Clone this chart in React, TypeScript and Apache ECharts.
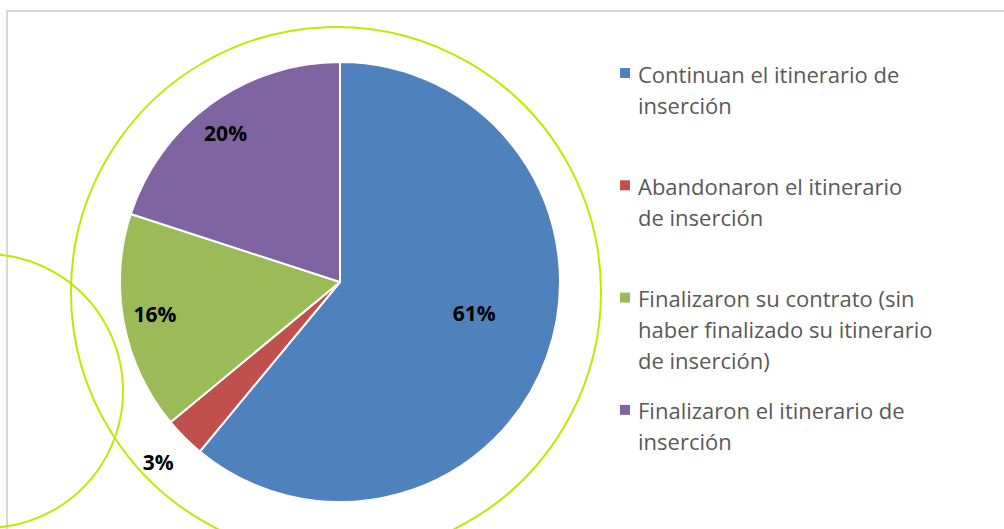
import React, { useEffect, useRef } from "react";
import * as echarts from "echarts";

const categories = [
  "Continuan el itinerario de\ninserción",
  "Abandonaron el itinerario\nde inserción",
  "Finalizaron su contrato (sin\nhaber finalizado su itinerario\nde inserción)",
  "Finalizaron el itinerario de\ninserción",
];
const values = [61, 3, 16, 20];
const colors = ["#4f81bd", "#c0504d", "#9bbb59", "#8064a2"];
const labelOffsets = [
  [28, -7],
  [-102, 100],
  [-74, 11],
  [-48, -58],
];

export default function App() {
  const ref = useRef<HTMLDivElement>(null);
  useEffect(() => {
    const chart = echarts.init(ref.current!, null, { renderer: "svg" });
    const FONT = "Open Sans";
    const legendGraphics: any[] = [];
    categories.forEach((c, i) => {
      const y = 73 + i * 112.3;
      legendGraphics.push({
        type: "rect",
        shape: { x: 620, y: y - 5, width: 10, height: 10 },
        style: { fill: colors[i] },
      });
      legendGraphics.push({
        type: "text",
        x: 638,
        y: y - 15,
        style: {
          text: c,
          font: `22px "${FONT}"`,
          fill: "#595959",
          lineHeight: 31,
          textVerticalAlign: "top",
        },
      });
    });
    chart.setOption({
      animation: false,
      graphic: [
        {
          type: "rect",
          shape: { x: 7, y: 11, width: 1200, height: 800 },
          style: { fill: "none", stroke: "#d9d9d9", lineWidth: 2 },
          z: 0,
        },
        ...legendGraphics,
        {
          type: "circle",
          shape: { cx: 336, cy: 292, r: 265 },
          style: { fill: "none", stroke: "#c3e800", lineWidth: 2 },
          z: 100,
        },
        {
          type: "circle",
          shape: { cx: -14, cy: 391, r: 137 },
          style: { fill: "none", stroke: "#c3e800", lineWidth: 2 },
          z: 100,
        },
      ],
      series: [
        {
          type: "pie",
          center: [340, 282],
          radius: [0, 220],
          startAngle: 90,
          clockwise: true,
          itemStyle: { borderColor: "#ffffff", borderWidth: 2 },
          labelLine: { show: false },
          label: {
            show: true,
            position: "inside",
            formatter: "{d}%",
            color: "#000000",
            fontWeight: "bold",
            fontSize: 21,
            fontFamily: FONT,
          },
          data: values.map((v, i) => ({
            value: v,
            name: categories[i],
            itemStyle: { color: colors[i] },
            label: { offset: labelOffsets[i] },
          })),
        },
      ],
    });
    return () => chart.dispose();
  }, []);
  return (
    <div
      ref={ref}
      style={{ position: "fixed", left: 0, top: 0, width: 1004, height: 529, background: "#fff" }}
    />
  );
}
